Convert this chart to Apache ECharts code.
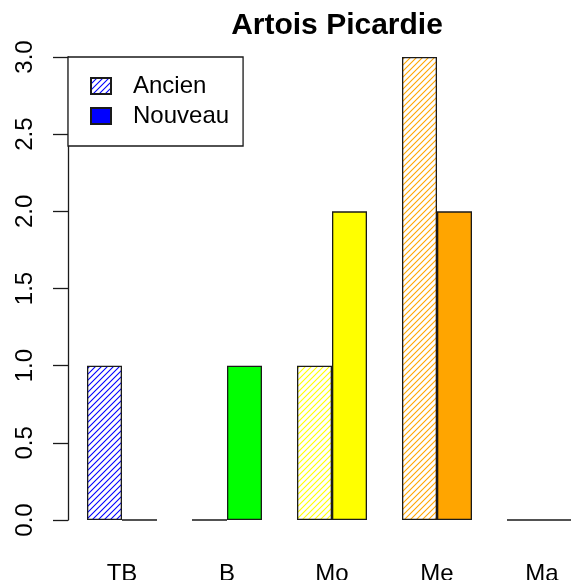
<!DOCTYPE html>
<html lang="fr">
<head>
    <meta charset="UTF-8">
    <title>Artois Picardie</title>
    <script src="https://cdn.jsdelivr.net/npm/echarts@6/dist/echarts.min.js"></script>
    <style type="text/css">
        html, body { margin: 0; height: 100%; background: #fff; }
        #main { width: 571px; height: 580px; }
    </style>
</head>
<body>
    <div id="main"></div>
    <script type="text/javascript">
        // données
        var categories = ['TB', 'B', 'Mo', 'Me', 'Ma'];
        var ancien = [1, 0, 1, 3, 0];
        var nouveau = [0, 1, 2, 2, 0];
        var couleurs = ['#0000FF', '#00FF00', '#FFFF00', '#FFA500', '#FF0000'];
        var seriesNames = ['Ancien', 'Nouveau'];

        // motif hachuré (lignes à 45°)
        function hachure(col) {
            var s = 6;
            var c = document.createElement('canvas');
            c.width = s; c.height = s;
            var ctx = c.getContext('2d');
            ctx.fillStyle = '#fff';
            ctx.fillRect(0, 0, s, s);
            ctx.strokeStyle = col;
            ctx.lineWidth = 1.1;
            ctx.beginPath();
            ctx.moveTo(-1, s + 1); ctx.lineTo(s + 1, -1);
            ctx.moveTo(-1, 1); ctx.lineTo(1, -1);
            ctx.moveTo(s - 1, s + 1); ctx.lineTo(s + 1, s - 1);
            ctx.stroke();
            return { image: c, repeat: 'repeat' };
        }

        var bordure = { borderColor: '#1a1a1a', borderWidth: 1.3 };

        var chart = echarts.init(document.getElementById('main'));
        var option = {
            animation: false,
            title: {
                text: 'Artois Picardie',
                left: 332,
                textAlign: 'center',
                top: 6,
                textStyle: { fontFamily: 'Liberation Sans', fontSize: 30, fontWeight: 'bold', color: '#000' }
            },
            legend: {
                orient: 'vertical',
                left: 68,
                top: 57,
                padding: [17, 14, 18, 22],
                itemWidth: 20,
                itemHeight: 16,
                itemGap: 6,
                icon: 'rect',
                borderColor: '#1a1a1a',
                borderWidth: 1.3,
                backgroundColor: '#fff',
                data: seriesNames,
                textStyle: {
                    fontFamily: 'Liberation Sans', fontSize: 24, lineHeight: 24, color: '#000',
                    padding: [0, 0, 0, 17]
                }
            },
            grid: { left: 69.5, top: 57, width: 525, height: 463, outerBoundsMode: 'none' },
            xAxis: {
                type: 'category',
                data: categories,
                axisLine: { show: false },
                axisTick: { show: false },
                axisLabel: {
                    margin: 42,
                    fontFamily: 'Liberation Sans', fontSize: 24, color: '#000'
                }
            },
            yAxis: {
                type: 'value',
                min: 0, max: 3, interval: 0.5,
                offset: 1.5,
                splitLine: { show: false },
                axisLine: { show: true, lineStyle: { color: '#1a1a1a', width: 1.3 } },
                axisTick: { show: true, length: 15, lineStyle: { color: '#1a1a1a', width: 1.3 } },
                axisLabel: {
                    rotate: 90,
                    margin: 31,
                    formatter: function (v) { return v.toFixed(1); },
                    fontFamily: 'Liberation Sans', fontSize: 24, color: '#000'
                }
            },
            series: [
                {
                    name: 'Ancien',
                    type: 'bar',
                    barWidth: 35,
                    barGap: '0%',
                    itemStyle: Object.assign({ color: hachure(couleurs[0]) }, bordure),
                    data: ancien.map(function (v, i) {
                        return { value: v, itemStyle: { color: hachure(couleurs[i]) } };
                    })
                },
                {
                    name: 'Nouveau',
                    type: 'bar',
                    barWidth: 35,
                    barGap: '0%',
                    itemStyle: Object.assign({ color: couleurs[0] }, bordure),
                    data: nouveau.map(function (v, i) {
                        return { value: v, itemStyle: { color: couleurs[i] } };
                    })
                }
            ]
        };
        chart.setOption(option);
    </script>
</body>
</html>
